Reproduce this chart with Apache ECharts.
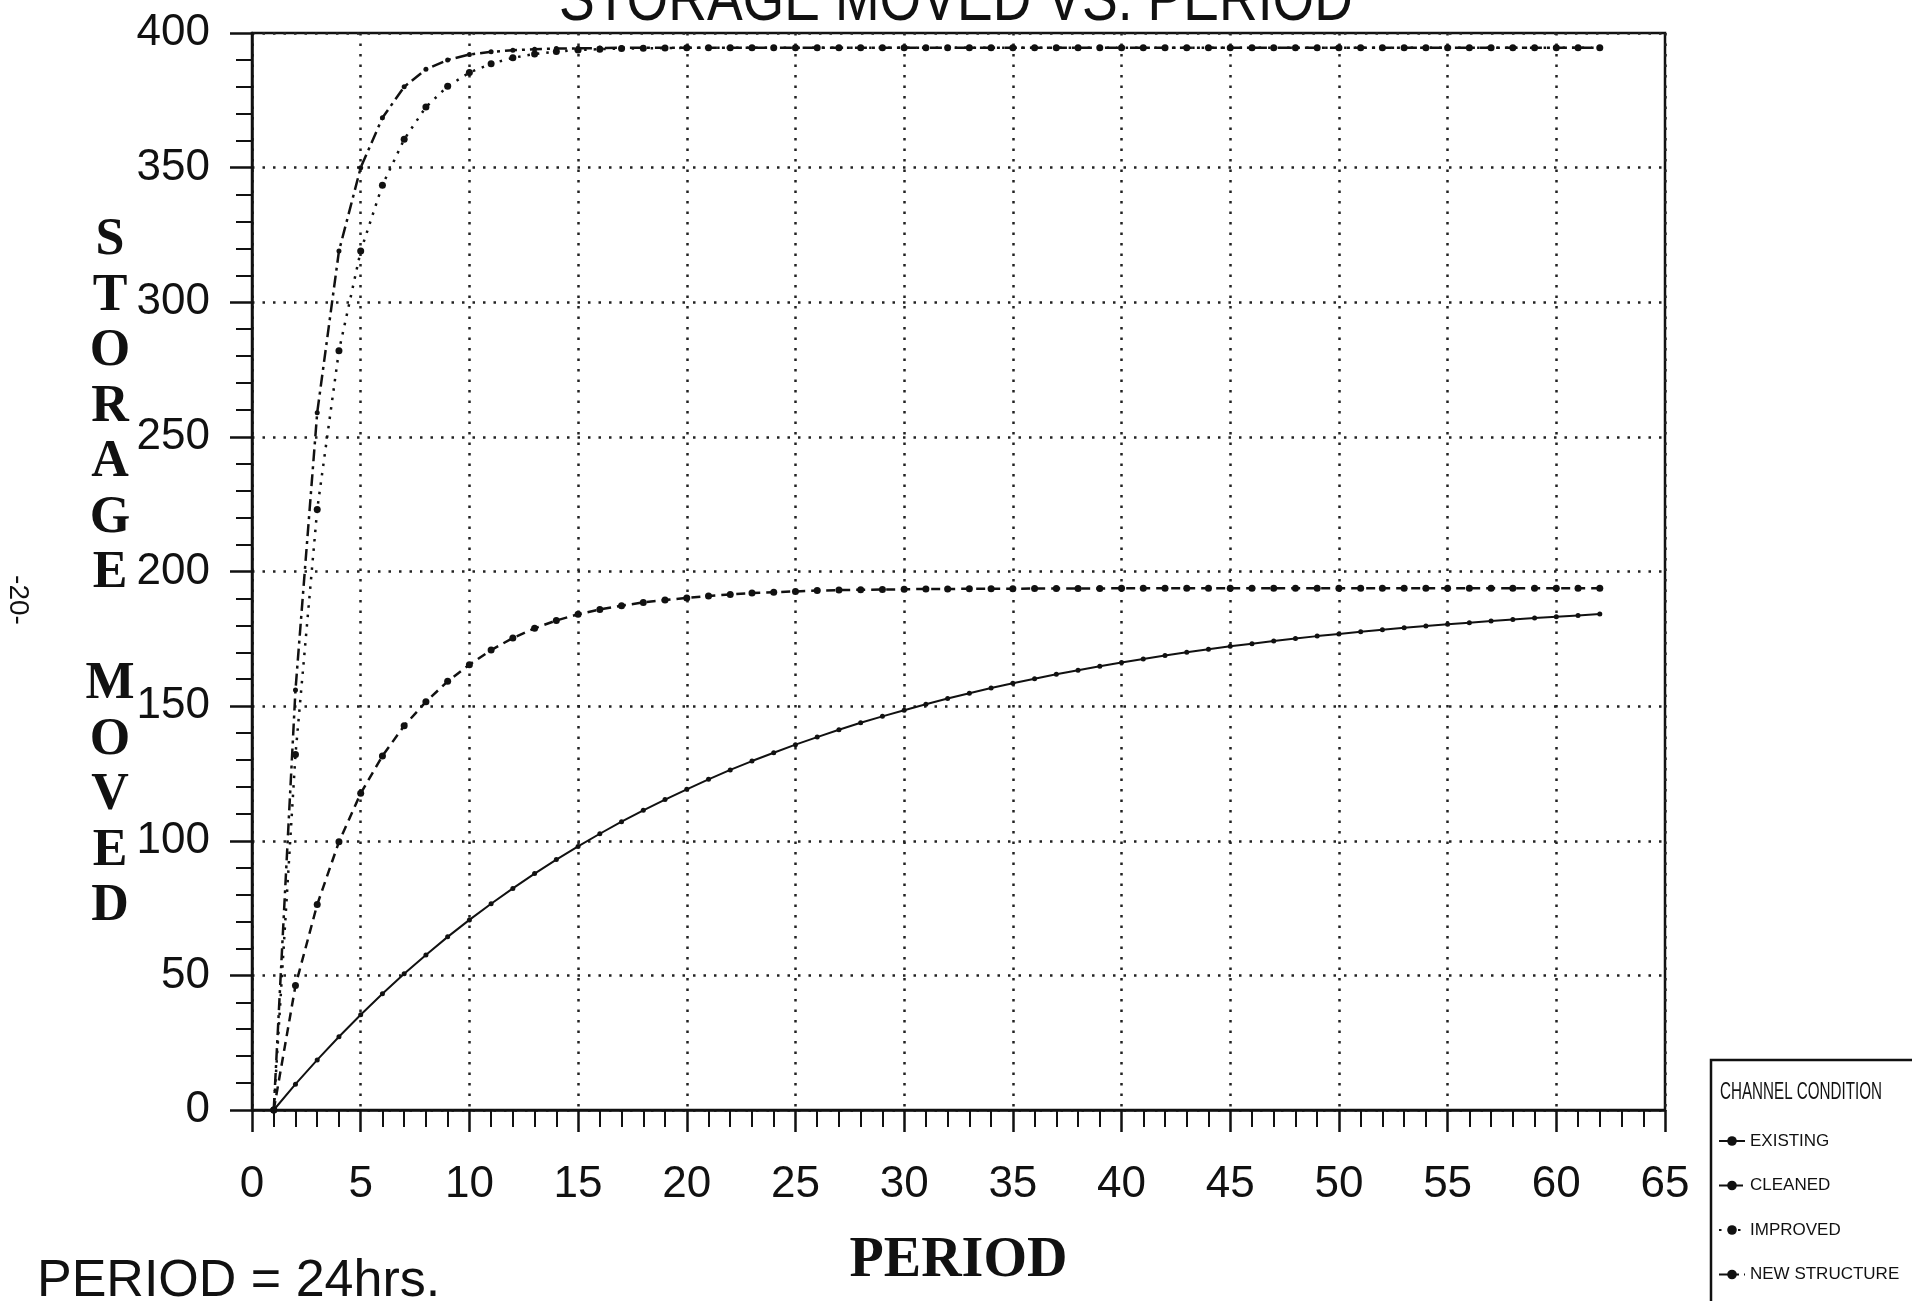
<!DOCTYPE html>
<html>
<head>
<meta charset="utf-8">
<script src="https://cdn.jsdelivr.net/npm/echarts@6/dist/echarts.min.js"></script>
<style>
html,body{margin:0;padding:0;background:#fff;}
#chart{width:1912px;height:1301px;}
</style>
</head>
<body>
<div id="chart"></div>
<script>
// ---- data ----
const periods = [1,2,3,4,5,6,7,8,9,10,11,12,13,14,15,16,17,18,19,20,21,22,23,24,25,26,27,28,29,30,31,32,33,34,35,36,37,38,39,40,41,42,43,44,45,46,47,48,49,50,51,52,53,54,55,56,57,58,59,60,61,62];

const existing = [0,9.6,18.6,27.2,35.4,43.2,50.6,57.6,64.3,70.6,
  76.6,82.3,87.8,93.0,97.9,102.6,107.1,111.3,115.3,119.1,
  122.8,126.3,129.6,132.7,135.7,138.5,141.2,143.8,146.2,148.5,
  150.7,152.8,154.8,156.7,158.5,160.2,161.8,163.3,164.8,166.2,
  167.5,168.8,170.0,171.1,172.2,173.2,174.2,175.1,176.0,176.8,
  177.6,178.4,179.1,179.8,180.4,181.0,181.6,182.2,182.7,183.2,
  183.7,184.2];

const cleaned = [0,46.2,76.3,99.6,117.6,131.5,142.7,151.6,159.2,165.4,
  170.8,175.3,178.9,181.8,184.1,185.9,187.3,188.5,189.4,190.2,
  190.9,191.5,192.0,192.3,192.6,192.9,193.1,193.2,193.3,193.4,
  193.5,193.5,193.6,193.6,193.6,193.7,193.7,193.7,193.7,193.8,
  193.8,193.8,193.8,193.8,193.8,193.8,193.8,193.8,193.8,193.8,
  193.8,193.8,193.8,193.8,193.8,193.8,193.8,193.8,193.8,193.8,
  193.8,193.8];

const improved = [0,132,223,282,319,343.5,360.5,372.5,380.2,385.3,
  388.6,390.8,392.2,393.1,393.7,394.0,394.2,394.3,394.4,394.5,
  394.5,394.5,394.5,394.5,394.5,394.5,394.5,394.5,394.5,394.5,
  394.5,394.5,394.5,394.5,394.5,394.5,394.5,394.5,394.5,394.5,
  394.5,394.5,394.5,394.5,394.5,394.5,394.5,394.5,394.5,394.5,
  394.5,394.5,394.5,394.5,394.5,394.5,394.5,394.5,394.5,394.5,
  394.5,394.5];

const newStructure = [0,156,259,319,350,368.5,380,386.5,390,392,
  393,393.6,394.0,394.2,394.3,394.4,394.5,394.5,394.5,394.5,
  394.5,394.5,394.5,394.5,394.5,394.5,394.5,394.5,394.5,394.5,
  394.5,394.5,394.5,394.5,394.5,394.5,394.5,394.5,394.5,394.5,
  394.5,394.5,394.5,394.5,394.5,394.5,394.5,394.5,394.5,394.5,
  394.5,394.5,394.5,394.5,394.5,394.5,394.5,394.5,394.5,394.5,
  394.5,394.5];

const seriesNames = ['EXISTING','CLEANED','IMPROVED','NEW STRUCTURE'];
const titleText = 'STORAGE MOVED VS. PERIOD';
const xAxisTitle = 'PERIOD';
const yAxisTitle = 'S\nT\nO\nR\nA\nG\nE\n\nM\nO\nV\nE\nD';
const noteText = 'PERIOD = 24hrs.';
const pageText = '-20-';
const legendTitle = 'CHANNEL CONDITION';

// ---- styling ----
const INK = '#111';
const NARROW = "'Liberation Sans Narrow','Liberation Sans','DejaVu Sans',sans-serif";
const PLAIN = "'Liberation Sans','DejaVu Sans',sans-serif";
const SERIF_B = "'Liberation Serif','DejaVu Serif',serif";

function fitScale(text, font, target) {
  const c = document.createElement('canvas').getContext('2d');
  c.font = font;
  const w = c.measureText(text).width;
  return w > 0 ? target / w : 1;
}

const titleFont = "64px " + NARROW;
const titleScale = fitScale(titleText, titleFont, 794);
const legTitleFont = "24px " + NARROW;
const legTitleScale = fitScale(legendTitle, legTitleFont, 162);

function pairs(arr) { return periods.map((p, i) => [p, arr[i]]); }

const chart = echarts.init(document.getElementById('chart'), null, {renderer: 'canvas'});

const option = {
  backgroundColor: '#fff',
  animation: false,
  grid: {left: 252, top: 33, width: 1413, height: 1077, show: true,
         borderColor: INK, borderWidth: 2.5, backgroundColor: 'transparent', containLabel: false},
  xAxis: {
    type: 'value', min: 0, max: 65, interval: 5,
    name: xAxisTitle, nameLocation: 'middle', nameGap: 124,
    nameTextStyle: {fontFamily: SERIF_B, fontWeight: 'bold', fontSize: 56, color: INK},
    axisLine: {show: true, onZero: false, lineStyle: {color: INK, width: 2.5}},
    axisTick: {show: true, inside: false, length: 22, lineStyle: {color: INK, width: 2.5}},
    minorTick: {show: true, splitNumber: 5, length: 17, lineStyle: {color: INK, width: 2}},
    axisLabel: {margin: 53, fontFamily: NARROW, fontSize: 44, color: INK},
    splitLine: {show: true, lineStyle: {color: '#222', width: 2.5, type: [2.5, 8]}}
  },
  yAxis: {
    type: 'value', min: 0, max: 400, interval: 50,
    axisLine: {show: true, onZero: false, lineStyle: {color: INK, width: 2.5}},
    axisTick: {show: true, inside: false, length: 22, lineStyle: {color: INK, width: 2.5}},
    minorTick: {show: true, splitNumber: 5, length: 16, lineStyle: {color: INK, width: 2}},
    axisLabel: {margin: 42, fontFamily: NARROW, fontSize: 44, color: INK},
    splitLine: {show: true, lineStyle: {color: '#222', width: 2.5, type: [2.5, 8]}}
  },
  legend: {
    show: true, orient: 'vertical', left: 1713, top: 1126,
    itemWidth: 26, itemHeight: 12, itemGap: 24.5,
    textStyle: {fontFamily: NARROW, fontSize: 17, lineHeight: 20, color: INK},
    data: seriesNames
  },
  series: [
    {name: seriesNames[0], type: 'line', data: pairs(existing), symbol: 'circle', symbolSize: 5,
     itemStyle: {color: INK}, lineStyle: {color: INK, width: 2, type: 'solid'}},
    {name: seriesNames[1], type: 'line', data: pairs(cleaned), symbol: 'circle', symbolSize: 7,
     itemStyle: {color: INK}, lineStyle: {color: INK, width: 2.5, type: [9, 6]}},
    {name: seriesNames[2], type: 'line', data: pairs(improved), symbol: 'circle', symbolSize: 7,
     itemStyle: {color: INK}, lineStyle: {color: INK, width: 2.5, type: [2.5, 7]}},
    {name: seriesNames[3], type: 'line', data: pairs(newStructure), symbol: 'circle', symbolSize: 5,
     itemStyle: {color: INK}, lineStyle: {color: INK, width: 2.5, type: [12, 5, 3, 5]}}
  ],
  graphic: [
    {type: 'text', x: 956, y: 2, scaleX: titleScale, z: 10,
     style: {text: titleText, font: titleFont, fill: INK, align: 'center', verticalAlign: 'middle'}},
    {type: 'text', x: 110, y: 574, z: 10,
     style: {text: yAxisTitle, font: "bold 52px " + SERIF_B, lineHeight: 55.5, fill: INK,
             align: 'center', verticalAlign: 'middle'}},
    {type: 'text', x: 37, y: 1282, z: 10,
     style: {text: noteText, font: "52px " + PLAIN, fill: INK, align: 'left', verticalAlign: 'middle'}},
    {type: 'text', x: 18, y: 600, rotation: -Math.PI / 2, z: 10,
     style: {text: pageText, font: "28px " + PLAIN, fill: INK, align: 'center', verticalAlign: 'middle'}},
    {type: 'rect', x: 1711, y: 1060, z: 5,
     shape: {x: 0, y: 0, width: 205, height: 260},
     style: {fill: 'none', stroke: INK, lineWidth: 2.5}},
    {type: 'text', x: 1720, y: 1092, scaleX: legTitleScale, z: 10,
     style: {text: legendTitle, font: legTitleFont, fill: INK, align: 'left', verticalAlign: 'middle'}}
  ]
};

chart.setOption(option);
</script>
</body>
</html>
